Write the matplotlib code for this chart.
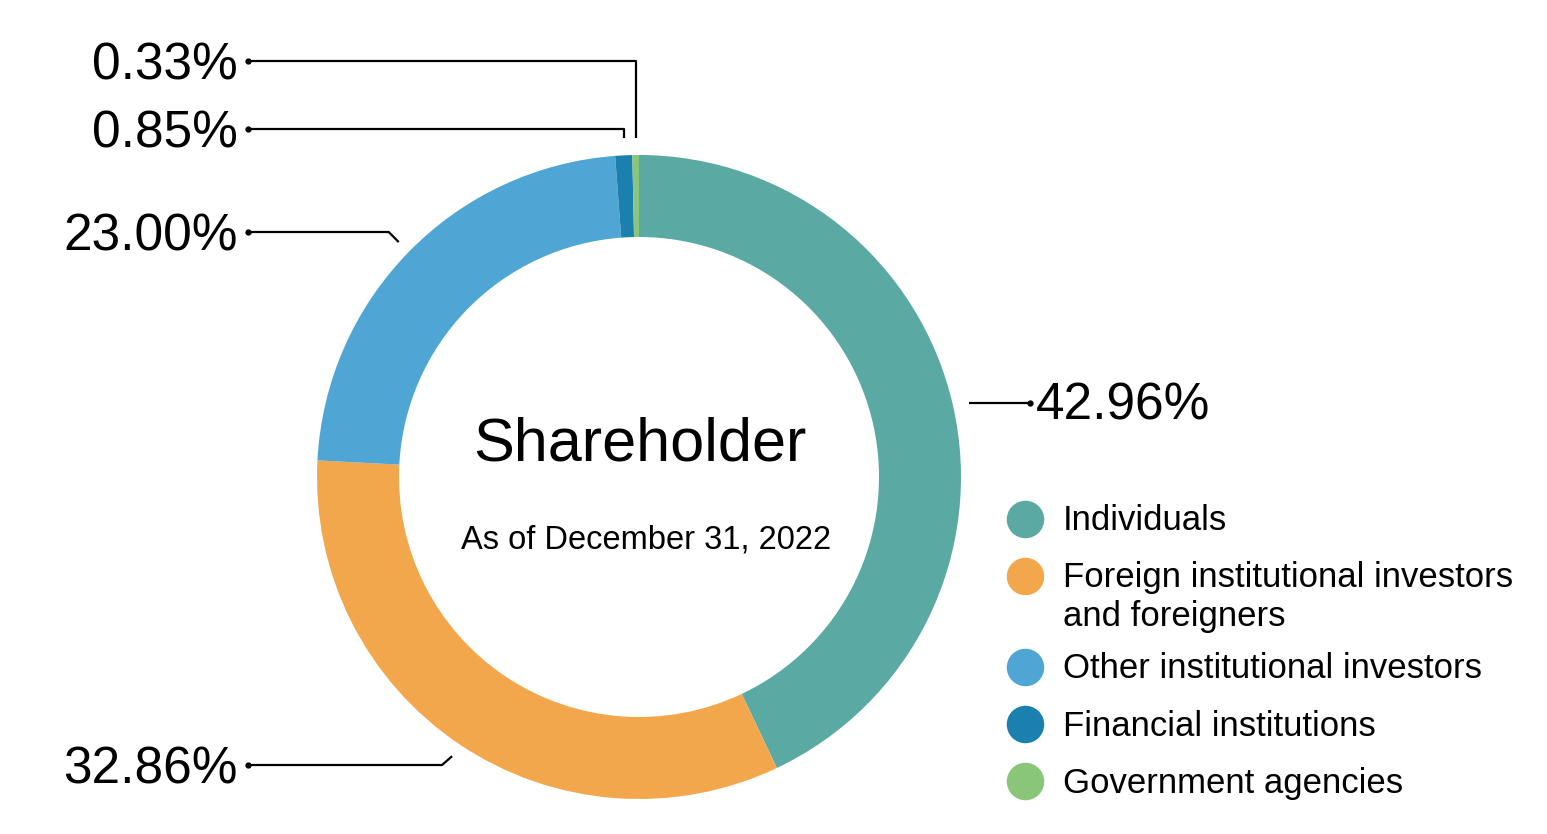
import matplotlib
matplotlib.use('Agg')
import numpy as np
import matplotlib.pyplot as plt

# shareholder structure, as of December 31, 2022
categories = ['Individuals',
              'Foreign institutional investors\nand foreigners',
              'Other institutional investors',
              'Financial institutions',
              'Government agencies']
shares = [42.96, 32.86, 23.00, 0.85, 0.33]
pct_labels = ['42.96%', '32.86%', '23.00%', '0.85%', '0.33%']
colors = ['#5aa9a3', '#f2a74c', '#4fa6d4', '#1b80ad', '#89c67a']

W, H = 1547, 834
plt.rcParams['font.family'] = ['Liberation Sans', 'DejaVu Sans']

fig = plt.figure(figsize=(W / 100, H / 100), dpi=100)
ax = fig.add_axes([0, 0, 1, 1])

cx, cy, R = 639, H - 477, 322
wedges, _ = ax.pie(shares, colors=colors, startangle=90, counterclock=False,
                   radius=R, center=(cx, cy),
                   wedgeprops=dict(width=82, linewidth=0))
ax.set_xlim(0, W)
ax.set_ylim(0, H)
ax.set_aspect('equal')
ax.axis('off')

ax.text(cx + 1, H - 445, 'Shareholder', ha='center', va='center', fontsize=44)
ax.text(cx + 7, H - 540, 'As of December 31, 2022', ha='center', va='center',
        fontsize=23.5)


def mid_point(w, r):
    a = np.deg2rad((w.theta1 + w.theta2) / 2)
    return cx + r * np.cos(a), cy + r * np.sin(a)


lk = dict(color='black', lw=1.6, solid_capstyle='butt')
fs = 37

# Individuals: short horizontal leader to the right
x0, y0 = mid_point(wedges[0], R + 16)
ax.plot([x0, 1030], [y0, y0], **lk)
ax.plot([1030], [y0], 'o', color='black', ms=3.5)
ax.text(1036, y0 - 3, pct_labels[0], ha='left', va='center', fontsize=fs)

# the rest go to the left column
left_y = {1: H - 765, 2: H - 232, 3: H - 129, 4: H - 61}
for i in [1, 2]:
    x0, y0 = mid_point(wedges[i], R + 14)
    yl = left_y[i]
    ax.plot([x0, x0 - 10, 248], [y0, yl, yl], **lk)
for i in [3, 4]:
    x0, _ = mid_point(wedges[i], R)
    yl = left_y[i]
    ax.plot([x0, x0, 248], [H - 138, yl, yl], **lk)
for i in [1, 2, 3, 4]:
    yl = left_y[i]
    ax.plot([248], [yl], 'o', color='black', ms=3.5)
    ax.text(238, yl - 5, pct_labels[i], ha='right', va='center', fontsize=fs)

# legend
leg_y = [519, 576, 667, 724, 781]
for c, lab, ly in zip(colors, categories, leg_y):
    ax.plot([1025], [H - ly], 'o', color=c, ms=27, mec='none')
    n = lab.count('\n')
    ax.text(1063, H - ly - 2 - n * 19, lab, ha='left', va='center',
            fontsize=25, linespacing=1.2)

fig.savefig('out.png', dpi=100)
